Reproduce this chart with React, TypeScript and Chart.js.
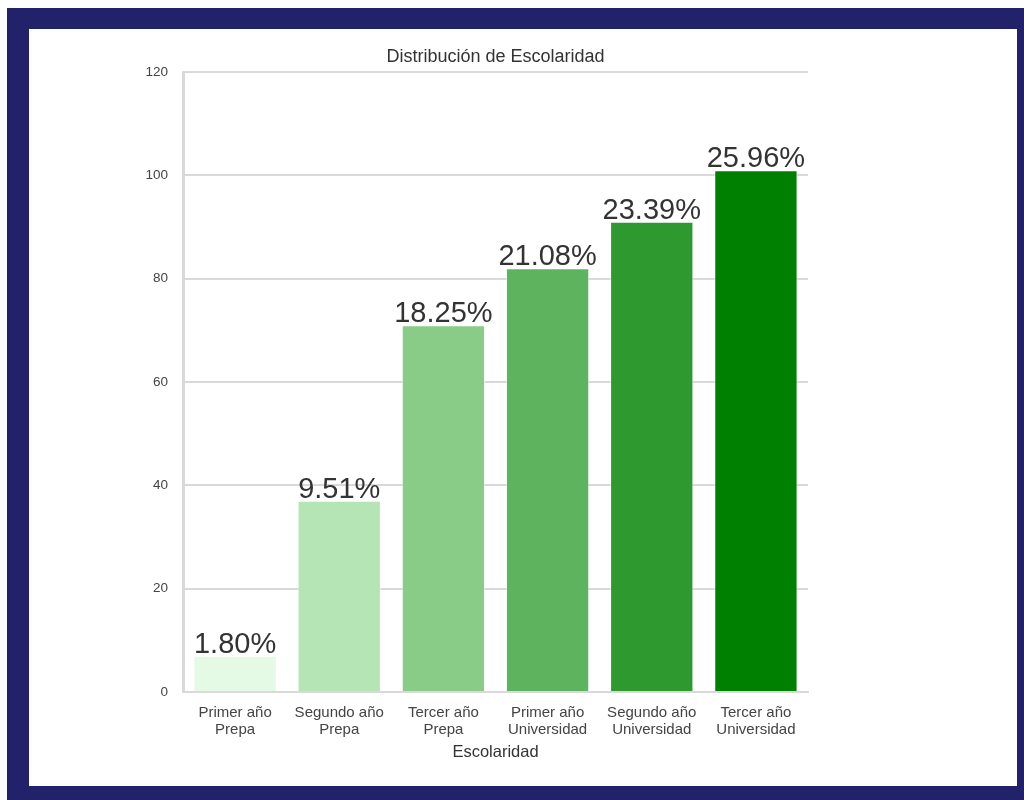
import React, { useEffect, useRef } from "react";
import { Chart, registerables } from "chart.js";

Chart.register(...registerables);

const categories: string[][] = [
  ["Primer año", "Prepa"],
  ["Segundo año", "Prepa"],
  ["Tercer año", "Prepa"],
  ["Primer año", "Universidad"],
  ["Segundo año", "Universidad"],
  ["Tercer año", "Universidad"],
];
const counts: number[] = [7, 37, 71, 82, 91, 101];
const percentLabels: string[] = ["1.80%", "9.51%", "18.25%", "21.08%", "23.39%", "25.96%"];
const barColors: string[] = ["#e5fae5", "#b5e5b5", "#88cc88", "#5eb45e", "#2e992e", "#008000"];
const yTicks: number[] = [0, 20, 40, 60, 80, 100, 120];
const chartTitle = "Distribución de Escolaridad";

const FONT = "'Liberation Sans', Arial, sans-serif";

const labelPlugin = {
  id: "pctLabels",
  afterDatasetsDraw(chart: any) {
    const ctx = chart.ctx;
    const meta = chart.getDatasetMeta(0);
    const area = chart.chartArea;
    ctx.save();
    ctx.font = `29px ${FONT}`;
    ctx.fillStyle = "#333333";
    ctx.textAlign = "center";
    ctx.textBaseline = "alphabetic";
    meta.data.forEach((bar: any, i: number) => {
      ctx.fillText(percentLabels[i], bar.x, bar.y - 3);
    });
    ctx.font = `18px ${FONT}`;
    ctx.textBaseline = "middle";
    ctx.fillText(chartTitle, (area.left + area.right) / 2, 28);
    ctx.restore();
  },
};

export default function App() {
  const ref = useRef<HTMLCanvasElement>(null);
  useEffect(() => {
    if (!ref.current) return;
    const chart = new Chart(ref.current, {
      type: "bar",
      data: {
        labels: categories,
        datasets: [
          {
            data: counts,
            backgroundColor: barColors,
            borderColor: "rgba(255,255,255,0.6)",
            borderWidth: 1,
            categoryPercentage: 1,
            barPercentage: 0.8,
          },
        ],
      },
      options: {
        animation: false,
        responsive: false,
        layout: { padding: { left: 0, right: 209, top: 43, bottom: 0 } },
        plugins: {
          legend: { display: false },
          tooltip: { enabled: false },
          title: { display: false },
        },
        scales: {
          y: {
            min: 0,
            max: 120,
            afterFit: (s: any) => {
              s.width = 154;
            },
            afterBuildTicks: (s: any) => {
              s.ticks = yTicks.map((v) => ({ value: v }));
            },
            ticks: {
              color: "#444444",
              font: { family: FONT, size: 13.5 },
              padding: 15,
            },
            grid: { color: "#d9d9d9", lineWidth: 2, drawTicks: false },
            border: { color: "#d9d9d9", width: 3 },
          },
          x: {
            afterFit: (s: any) => {
              s.height = 94;
            },
            ticks: {
              color: "#444444",
              font: { family: FONT, size: 15, lineHeight: 1.15 },
              padding: 12,
              maxRotation: 0,
              autoSkip: false,
            },
            grid: { display: false, drawTicks: false },
            border: { color: "#d9d9d9", width: 2 },
            title: {
              display: true,
              text: "Escolaridad",
              color: "#333333",
              font: { family: FONT, size: 16.5 },
              padding: { top: 0, bottom: 24 },
            },
          },
        },
      },
      plugins: [labelPlugin],
    });
    return () => chart.destroy();
  }, []);

  return (
    <div
      style={{
        position: "fixed",
        left: 7,
        top: 8,
        width: 1017,
        height: 792,
        background: "#22226a",
        boxSizing: "border-box",
        paddingTop: 21,
        paddingLeft: 22,
      }}
    >
      <div style={{ background: "#ffffff", width: 988, height: 757 }}>
        <canvas ref={ref} width={988} height={757} style={{ display: "block" }} />
      </div>
    </div>
  );
}
